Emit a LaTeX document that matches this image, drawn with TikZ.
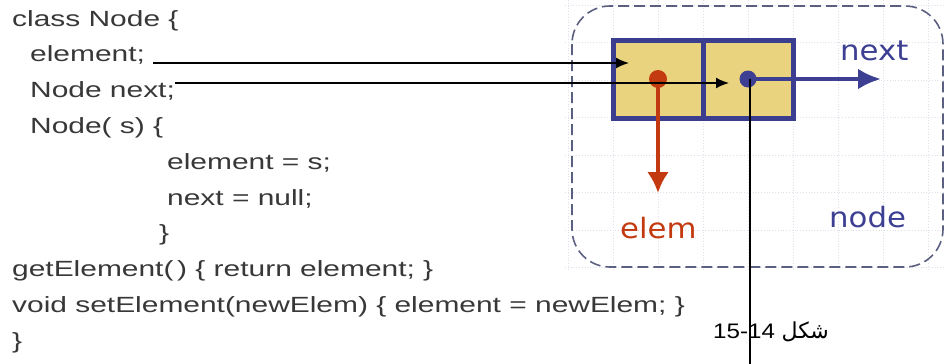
\documentclass[tikz,border=0pt]{standalone}
\usepackage{fontspec}
\setmainfont{Liberation Sans}
\newfontfamily\codefont[FakeStretch=1.36]{Liberation Sans}
\newfontfamily\lblfont[FakeStretch=1.1]{DejaVu Sans}
\newfontfamily\numfont[FakeStretch=1.15]{Liberation Sans}
\newfontfamily\arabicfont[Script=Arabic]{DejaVu Sans}
\TeXXeTstate=1
\usetikzlibrary{arrows.meta}
\usetikzlibrary{positioning}
\definecolor{cellfill}{HTML}{EAD37F}
\definecolor{cellline}{HTML}{3B3E8E}
\definecolor{elemred}{HTML}{C43A10}
\definecolor{nextblue}{HTML}{3D4092}
\definecolor{gridgray}{HTML}{DDE0EA}
\definecolor{framegray}{HTML}{5C6080}
\definecolor{codegray}{HTML}{383838}

\begin{document}
\begin{tikzpicture}[x=1pt,y=-1pt,>={Latex[length=13pt,width=11pt]},
		code/.style={anchor=base west,
				inner sep=0pt,
				text=codegray,
				font=\codefont\fontsize{22}{26}\selectfont},
		cell/.style={draw=cellline,
				fill=cellfill,
				line width=5pt,
				minimum width=90pt,
				minimum height=78pt,
				inner sep=0pt,
				outer sep=0pt},
		dot/.style={circle, inner sep=0pt, minimum size=18pt},
		lbl/.style={anchor=base west, inner sep=0pt, font=\lblfont\fontsize{28}{32}\selectfont},
		ptr/.style={->, line width=1.8pt}]
			\useasboundingbox (0,0) rectangle (946,364);
			% grid behind the node picture
			\foreach \gx in {568,613,...,928}
				\draw[gridgray, dotted, line width=0.8pt] (\gx,0) -- (\gx,270);
			\foreach \gy in {5,42.5,...,268}
				\draw[gridgray, dotted, line width=0.8pt] (565,\gy) -- (946,\gy);
			\draw[framegray, line width=1.6pt, dash pattern=on 11pt off 5pt, rounded corners=38pt] (572,6) rectangle (943,267);
			% the node
			\node[cell] (ecell) at (658,79) {};
			\node[cell,right=0pt of ecell] (ncell) {};
			\coordinate (etip) at (658,193);
			\coordinate (ntip) at (881,79);
			\draw[elemred, line width=4.5pt, -{Latex[length=21pt,width=22pt]}] (ecell.center)--(etip);
			\draw[nextblue, line width=4.5pt, -{Latex[length=23pt,width=21pt]}] (ncell.center)--(ntip);
			\node[dot,fill=elemred] (edot) at (ecell.center) {};
			\node[dot,fill=nextblue,minimum size=17pt] (ndot) at (ncell.center) {};
			\node[lbl,text=elemred] (elemlbl) at (620,238) {elem};
			\node[lbl,text=nextblue] (nextlbl) at (840,60) {next};
			\node[lbl,text=nextblue] (nodelbl) at (829,227) {node};
			% the code
			\node[code] (clsln) at (12,26) {class Node \{};
			\node[code] (elemln) at (30,61.8) {element;};
			\node[code] (nextln) at (30,97.6) {Node next;};
			\node[code] (ctorln) at (30,133.4) {Node( s) \{};
			\node[code] (asgnel) at (167,169.2) {element = s;};
			\node[code] (asgnnx) at (167,205) {next = null;};
			\node[code] (ctorend) at (159,240.8) {\}};
			\node[code] (getln) at (12,276.6) {getElement(\,) \{ return element; \}};
			\node[code] (setln) at (12,312.4) {void setElement(newElem) \{ element = newElem; \}};
			\node[code] (clsend) at (12,348.2) {\}};
			% pointers from the code into the node
			\coordinate (eltip) at (629,63);
			\coordinate (nxtip) at (729,83);
			\coordinate (capline) at (750,364);
			\draw[ptr] ([xshift=8pt]elemln.base east |- eltip)--(eltip);
			\draw[ptr] ([xshift=0pt]nextln.north east |- nxtip)--(nxtip);
			\draw[line width=1.8pt] (capline |- ndot)--(capline);
			\node[anchor=base west,inner sep=0pt] (caption) at (713,338) {\numfont\fontsize{21}{24}\selectfont 15-14 {\arabicfont\fontsize{22}{24}\selectfont\beginR شكل\endR}};
		\end{tikzpicture}
\end{document}
